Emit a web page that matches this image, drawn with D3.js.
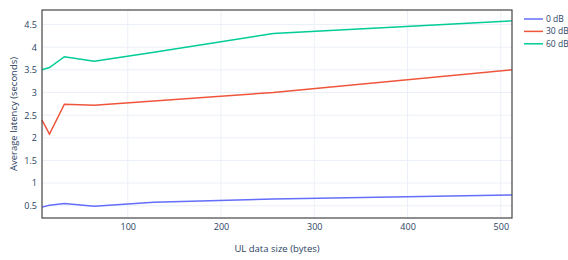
<!DOCTYPE html>
<html>
<head>
<meta charset="utf-8">
<script src="https://cdn.jsdelivr.net/npm/d3@7"></script>
<style>
  body { margin: 0; background: #fff; }
  text { font-family: "Open Sans", sans-serif; fill: #2a3f5f; }
</style>
</head>
<body>
<div id="chart"></div>
<script>
var sizes = [8, 16, 32, 64, 128, 256, 512];
var lat0 = [0.47, 0.51, 0.55, 0.49, 0.58, 0.65, 0.74];
var lat30 = [2.39, 2.08, 2.74, 2.72, 2.81, 3.0, 3.5];
var lat60 = [3.5, 3.55, 3.79, 3.69, 3.89, 4.3, 4.58];
var seriesNames = ["0 dB", "30 dB", "60 dB"];
var colors = ["#636efa", "#ef553b", "#00cc96"];
var xTicks = [100, 200, 300, 400, 500];
var yTicks = [0.5, 1, 1.5, 2, 2.5, 3, 3.5, 4, 4.5];

var margin = { top: 10, right: 56, bottom: 42, left: 42 },
    width = 568 - margin.left - margin.right,
    height = 260 - margin.top - margin.bottom;

var series = [lat0, lat30, lat60].map(function (vals, i) {
    return { name: seriesNames[i], color: colors[i],
        values: vals.map(function (v, j) { return { x: sizes[j], y: v }; }) };
});

var x = d3.scaleLinear().domain([8, 512]).range([0, width]);
var y = d3.scaleLinear().domain([0.23, 4.82]).range([height, 0]);

var svg = d3.select("#chart").append("svg")
    .attr("width", 568)
    .attr("height", 260);
var g = svg.append("g")
    .attr("transform", "translate(" + margin.left + "," + margin.top + ")");

// grid
g.append("g").selectAll("line").data(xTicks).enter().append("line")
    .attr("x1", function (d) { return x(d); }).attr("x2", function (d) { return x(d); })
    .attr("y1", 0).attr("y2", height)
    .attr("stroke", "#ebf0f8").attr("stroke-width", 1);
g.append("g").selectAll("line").data(yTicks).enter().append("line")
    .attr("y1", function (d) { return y(d); }).attr("y2", function (d) { return y(d); })
    .attr("x1", 0).attr("x2", width)
    .attr("stroke", "#ebf0f8").attr("stroke-width", 1);

// lines
var line = d3.line()
    .x(function (d) { return x(d.x); })
    .y(function (d) { return y(d.y); });

g.selectAll(".series").data(series).enter().append("path")
    .attr("class", "series")
    .attr("d", function (d) { return line(d.values); })
    .attr("fill", "none")
    .attr("stroke", function (d) { return d.color; })
    .attr("stroke-width", 1.5);

// axes
var xAxis = g.append("g")
    .attr("transform", "translate(0," + height + ")")
    .call(d3.axisBottom(x).tickValues(xTicks).tickSize(0).tickPadding(6));
var yAxis = g.append("g")
    .call(d3.axisLeft(y).tickValues(yTicks).tickFormat(function (d) { return String(d); })
        .tickSize(0).tickPadding(5));
[xAxis, yAxis].forEach(function (a) {
    a.select(".domain").remove();
    a.selectAll("text").style("font-size", "9px").attr("fill", "#2a3f5f");
});

// box
g.append("rect")
    .attr("width", width).attr("height", height)
    .attr("fill", "none").attr("stroke", "#444").attr("stroke-width", 1.2);

// titles
svg.append("text")
    .attr("x", margin.left + width / 2)
    .attr("y", 252)
    .attr("text-anchor", "middle")
    .style("font-size", "9.5px")
    .text("UL data size (bytes)");
svg.append("text")
    .attr("transform", "translate(17," + (margin.top + height / 2) + ") rotate(-90)")
    .attr("text-anchor", "middle")
    .style("font-size", "9.5px")
    .text("Average latency (seconds)");

// legend
var legend = svg.append("g").attr("transform", "translate(524,19)");
var item = legend.selectAll("g").data(series).enter().append("g")
    .attr("transform", function (d, i) { return "translate(0," + (i * 12.4) + ")"; });
item.append("line")
    .attr("x1", 0).attr("x2", 19)
    .attr("stroke", function (d) { return d.color; })
    .attr("stroke-width", 1.5);
item.append("text")
    .attr("x", 22).attr("dy", "0.35em")
    .style("font-size", "8.5px")
    .text(function (d) { return d.name; });
</script>
</body>
</html>
